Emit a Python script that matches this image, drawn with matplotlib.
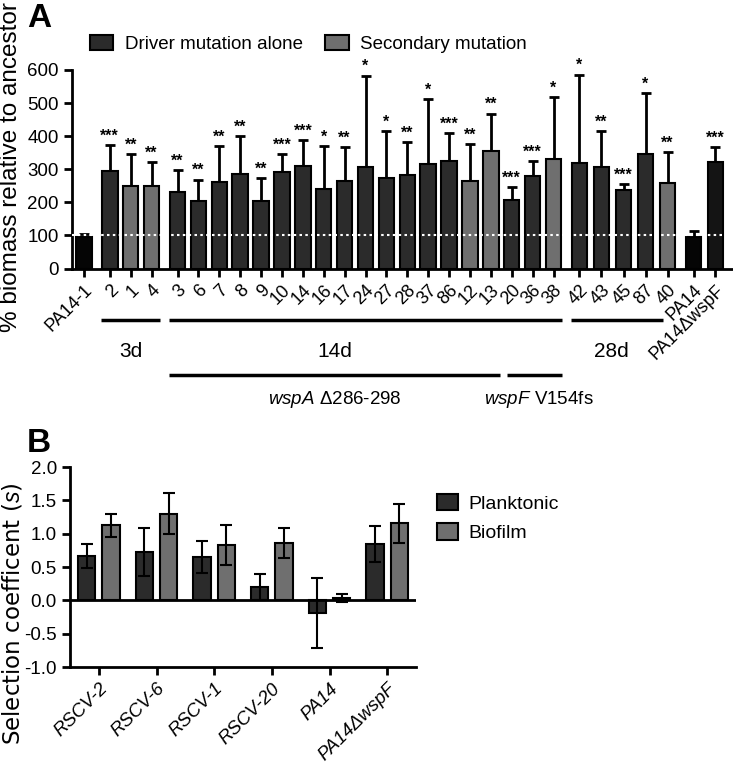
import matplotlib
matplotlib.use('Agg')
import matplotlib.pyplot as plt
from matplotlib.transforms import blended_transform_factory
from matplotlib.patches import Patch

plt.rcParams['font.family'] = ['Liberation Sans', 'DejaVu Sans']
plt.rcParams['mathtext.fontset'] = 'custom'
plt.rcParams['mathtext.it'] = 'Liberation Sans:italic'
plt.rcParams['mathtext.rm'] = 'Liberation Sans'

# ---------------- Panel A data ----------------
labels_a = ['PA14-1', '2', '1', '4', '3', '6', '7', '8', '9', '10', '14', '16', '17',
            '24', '27', '28', '37', '86', '12', '13', '20', '36', '38', '42', '43',
            '45', '87', '40', 'PA14', 'PA14ΔwspF']
biomass = [96, 294, 249, 249, 231, 205, 261, 286, 205, 291, 310, 240, 264, 306, 275,
           283, 315, 326, 264, 354, 207, 279, 332, 319, 308, 236, 346, 258, 96, 321]
biomass_err = [8, 79, 98, 73, 67, 64, 110, 113, 69, 54, 77, 130, 103, 277, 140, 98,
               198, 84, 113, 114, 38, 45, 186, 267, 108, 19, 184, 94, 17, 47]
bar_type = ['ancestor', 'driver', 'secondary', 'secondary', 'driver', 'driver', 'driver',
            'driver', 'driver', 'driver', 'driver', 'driver', 'driver', 'driver', 'driver',
            'driver', 'driver', 'driver', 'secondary', 'secondary', 'driver', 'driver',
            'secondary', 'driver', 'driver', 'driver', 'driver', 'secondary', 'ancestor',
            'knockout']
stars = ['', '***', '**', '**', '**', '**', '**', '**', '**', '***', '***', '*', '**', '*',
         '*', '**', '*', '***', '**', '**', '***', '***', '*', '*', '**', '***', '*', '**',
         '', '***']
group_sizes = [1, 3, 19, 5, 2]
group_steps = [1.0, 1.0, 1.0, 1.055, 1.05]
legend_a = ['Driver mutation alone', 'Secondary mutation']

# ---------------- Panel B data ----------------
strains_b = ['RSCV-2', 'RSCV-6', 'RSCV-1', 'RSCV-20', 'PA14', 'PA14ΔwspF']
planktonic = [0.665, 0.72, 0.645, 0.20, -0.19, 0.845]
planktonic_err = [0.18, 0.36, 0.24, 0.20, 0.52, 0.27]
biofilm = [1.125, 1.30, 0.835, 0.86, 0.035, 1.155]
biofilm_err = [0.175, 0.31, 0.30, 0.22, 0.065, 0.29]
legend_b = ['Planktonic', 'Biofilm']

colors = {'driver': '#2b2b2b', 'secondary': '#6f6f6f', 'ancestor': '#050505',
          'knockout': '#141414'}

W, H = 733, 763
fig = plt.figure(figsize=(W / 100, H / 100), dpi=100)


def fx(px):
    return px / W


def fy(py):
    return 1 - py / H


# positions of panel A bars
pos = []
start = 0.0
for n, step in zip(group_sizes, group_steps):
    for i in range(n):
        pos.append(start + i * step)
    start = pos[-1] + 1.24

axA = fig.add_axes([fx(72), fy(268.5), fx(733 - 72), (268.5 - 70) / H])
axA.bar(pos, biomass, width=0.74, color=[colors[t] for t in bar_type],
        edgecolor='black', linewidth=1.5, zorder=2)
axA.errorbar(pos, biomass, yerr=[[0] * len(biomass), biomass_err], fmt='none',
             ecolor='black', elinewidth=2, capsize=3.6, capthick=2, zorder=1)
axA.axhline(100, color='white', linestyle=(0, (1.2, 1.6)), linewidth=1.5, zorder=3)
for x, v, e, s in zip(pos, biomass, biomass_err, stars):
    if s:
        axA.annotate(s, (x, v + e), xytext=(0, 1), textcoords='offset points',
                     ha='center', va='bottom', fontsize=11.5, fontweight='bold')
axA.set_xlim(pos[0] - 0.57, pos[-1] + 0.84)
axA.set_ylim(0, 600)
axA.set_yticks(range(0, 601, 100))
axA.set_xticks(pos)
axA.set_xticklabels(labels_a, rotation=45, ha='right', rotation_mode='anchor',
                    fontsize=13)
axA.tick_params(axis='both', width=2, length=6)
axA.tick_params(axis='x', labelsize=13)
axA.tick_params(axis='y', labelsize=13.5)
for sp in ['top', 'right']:
    axA.spines[sp].set_visible(False)
for sp in ['left', 'bottom']:
    axA.spines[sp].set_linewidth(2)

handles_a = [Patch(facecolor=colors['driver'], edgecolor='black', linewidth=1.5),
             Patch(facecolor=colors['secondary'], edgecolor='black', linewidth=1.5)]
fig.legend(handles_a, legend_a, loc='center left', bbox_to_anchor=(fx(90), fy(44)),
           ncol=2, frameon=False, fontsize=13.5, borderpad=0, borderaxespad=0,
           handlelength=1.25, handleheight=0.9, handletextpad=0.6, columnspacing=1.2)

fig.text(fx(11), fy(167), '% biomass relative to ancestor', rotation=90,
         ha='center', va='center', fontsize=17.5)
fig.text(fx(27), fy(3), 'A', fontsize=24, fontweight='bold', ha='left', va='top')

# brackets below panel A
tr = blended_transform_factory(axA.transData, fig.transFigure)


def bracket(x0, x1, ypx):
    axA.plot([x0, x1], [fy(ypx)] * 2, color='black', lw=2.5, transform=tr,
             clip_on=False, solid_capstyle='butt')


bracket(pos[1] - 0.42, pos[3] + 0.42, 320)
bracket(pos[4] - 0.42, pos[22] + 0.42, 320)
bracket(pos[23] - 0.42, pos[27] - 0.2, 320)
bracket(pos[4] - 0.42, pos[19] + 0.42, 375)
bracket(pos[20] - 0.25, pos[22] + 0.42, 375)
axA.text(pos[2], fy(352), '3d', transform=tr, ha='center', va='center', fontsize=15)
axA.text(12.0, fy(352), '14d', transform=tr, ha='center', va='center', fontsize=15)
axA.text(25.27, fy(352), '28d', transform=tr, ha='center', va='center', fontsize=15)
axA.text(12.0, fy(399), r'$\it{wspA}$ Δ286-298', transform=tr, ha='center',
         va='center', fontsize=13.5)
axA.text(21.77, fy(399), r'$\it{wspF}$ V154fs', transform=tr, ha='center',
         va='center', fontsize=13.5)

# ---------------- Panel B ----------------
axB = fig.add_axes([fx(70), fy(667), fx(416 - 70), 200 / H])
xb = list(range(len(strains_b)))
off = 0.2125
axB.bar([x - off for x in xb], planktonic, width=0.3, color='#2b2b2b',
        edgecolor='black', linewidth=1.5, zorder=2)
axB.bar([x + off for x in xb], biofilm, width=0.3, color='#6f6f6f',
        edgecolor='black', linewidth=1.5, zorder=2)
axB.errorbar([x - off for x in xb], planktonic, yerr=planktonic_err, fmt='none',
             ecolor='black', elinewidth=1.5, capsize=4.5, capthick=1.5, zorder=3)
axB.errorbar([x + off for x in xb], biofilm, yerr=biofilm_err, fmt='none',
             ecolor='black', elinewidth=1.5, capsize=4.5, capthick=1.5, zorder=3)
axB.axhline(0, color='black', linewidth=2, zorder=4)
axB.set_xlim(-0.5, len(strains_b) - 0.5)
axB.set_ylim(-1.0, 2.0)
axB.set_yticks([-1.0, -0.5, 0.0, 0.5, 1.0, 1.5, 2.0])
axB.set_yticklabels(['-1.0', '-0.5', '0.0', '0.5', '1.0', '1.5', '2.0'])
axB.set_xticks(xb)
axB.set_xticklabels(strains_b, rotation=45, ha='right', rotation_mode='anchor',
                    fontstyle='italic', fontsize=13.5)
axB.tick_params(axis='both', width=2, length=6)
axB.tick_params(axis='y', labelsize=13.5)
for sp in ['top', 'right']:
    axB.spines[sp].set_visible(False)
for sp in ['left', 'bottom']:
    axB.spines[sp].set_linewidth(2)

handles_b = [Patch(facecolor='#2b2b2b', edgecolor='black', linewidth=1.5),
             Patch(facecolor='#6f6f6f', edgecolor='black', linewidth=1.5)]
fig.legend(handles_b, legend_b, loc='upper left', bbox_to_anchor=(fx(437), fy(494)),
           frameon=False, fontsize=14, borderpad=0, borderaxespad=0,
           handlelength=1.1, handleheight=0.9, handletextpad=0.5, labelspacing=0.55)

fig.text(fx(13), fy(614), 'Selection coefficent ($\\it{s}$)', rotation=90,
         ha='center', va='center', fontsize=16.5, family='DejaVu Sans')
fig.text(fx(27), fy(428), 'B', fontsize=24, fontweight='bold', ha='left', va='top')

fig.savefig('out.png', dpi=100)
